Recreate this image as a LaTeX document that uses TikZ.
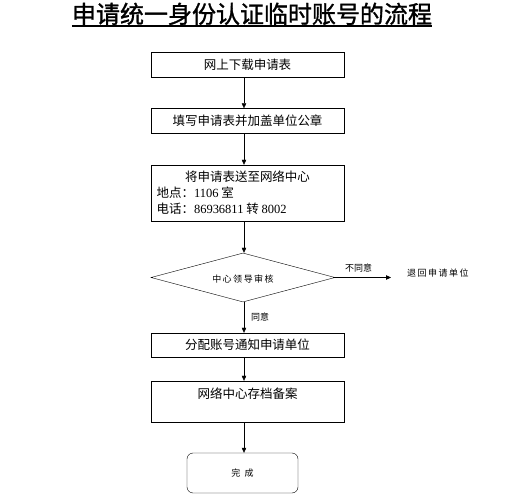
\documentclass[tikz,border=0pt]{standalone}
\usepackage{fontspec}
\setmainfont{Liberation Serif}
\newfontfamily\cjk{Noto Sans CJK SC}
\newfontfamily\cjktitle[FakeBold=1.2]{Noto Sans CJK SC}
\usetikzlibrary{arrows.meta,shapes.geometric,calc}

\tikzset{
  stepbox/.style={draw, thin, rectangle, minimum width=193pt, minimum height=25pt,
    inner sep=0pt, font=\cjk\fontsize{12.5}{14}\selectfont},
  flow/.style={draw, thin, -{Triangle[length=5pt,width=4.5pt]}},
  smalltext/.style={inner sep=0pt, font=\cjk\fontsize{9}{11}\selectfont}
}

\begin{document}
\begin{tikzpicture}[x=1pt, y=-1pt]
  \useasboundingbox (0,0) rectangle (507,500);

  % title
  \node (title) [inner sep=0pt, anchor=base] at (252,23)
    {\cjktitle\fontsize{24}{24}\selectfont 申请统一身份认证临时账号的流程};
  \draw [line width=1.2pt] ($(title.base west)+(0,3)$) coordinate (ulstart)
    -- ($(title.base east)+(0,3)$) coordinate (ulend);

  % spine of the arrows
  \coordinate (spine) at (244,0);

  \node (download) [stepbox] at (247.5,64.5) {网上下载申请表};
  \node (fill) [stepbox] at (247.5,121) {填写申请表并加盖单位公章};
  \node (send) [stepbox, minimum height=56pt] at (247.5,193) {
    \begin{minipage}{182pt}
      \fontsize{12.5}{16}\selectfont
      \centering 将申请表送至网络中心\par
      \raggedright 地点：{\rmfamily 1106} 室\par
      电话：{\rmfamily 86936811} 转 {\rmfamily 8002}
    \end{minipage}
  };

  \node (check) [draw, thin, diamond, aspect=3.75, inner sep=0pt,
    minimum width=184pt, minimum height=49pt] at (243,277.5) {};
  \node (checktext) [smalltext] at (243,279) {中\,心\,领\,导\,审\,核};

  \node (reject) [smalltext, anchor=west] at (407,273) {退\,回\,申\,请\,单\,位};
  \coordinate (rejectend) at (391,277.5);

  \node (assign) [stepbox, minimum height=24pt] at (247.5,345) {分配账号通知申请单位};
  \node (archive) [stepbox, minimum height=41pt] at (247.5,401.5) {};
  \node (archivetext) [inner sep=0pt, font=\cjk\fontsize{12.5}{14}\selectfont]
    at (247.5,394) {网络中心存档备案};

  \node (done) [draw, thin, rounded corners=6pt, minimum width=111pt,
    minimum height=40pt, smalltext] at (242.5,473) {完\ \ 成};

  % connectors
  \draw [flow] (download.south -| spine) -- (fill.north -| spine);
  \draw [flow] (fill.south -| spine) -- (send.north -| spine);
  \draw [flow] (send.south -| spine) -- (check.north -| spine);
  \draw [flow] (check.east) -- (rejectend)
    node (disagree) [smalltext, pos=0.42, above=5pt] {不同意};
  \draw [flow] (check.south -| spine) -- (assign.north -| spine)
    node (agree) [smalltext, midway, right=7pt] {同意};
  \draw [flow] (assign.south -| spine) -- (archive.north -| spine);
  \draw [flow] (archive.south -| spine) -- (done.north -| spine);
\end{tikzpicture}
\end{document}
